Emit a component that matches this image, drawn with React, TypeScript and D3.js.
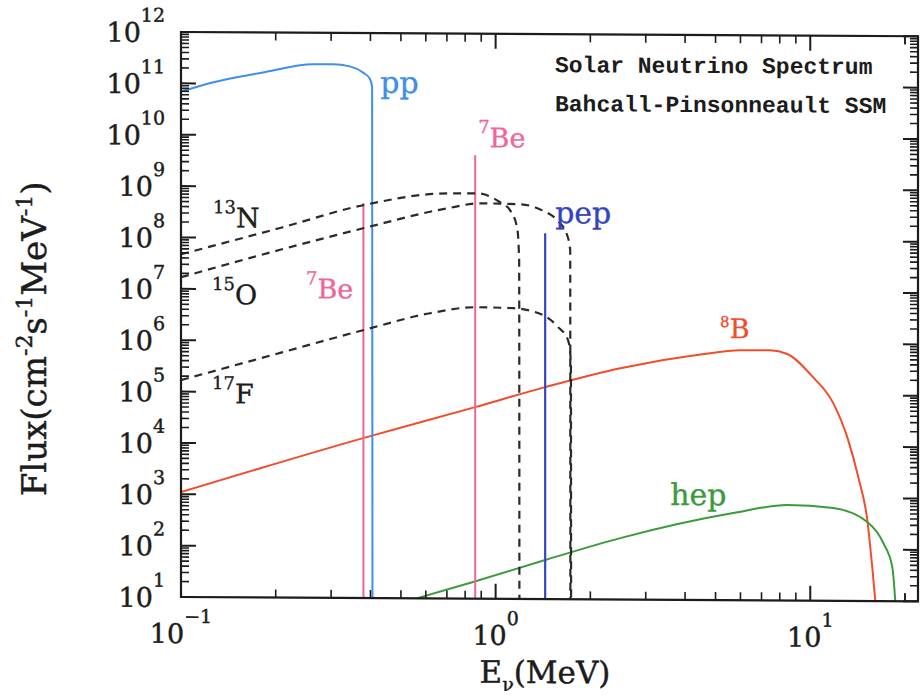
import React from "react";
import * as d3 from "d3";

// ---------- data ----------
const yExponents = [1, 2, 3, 4, 5, 6, 7, 8, 9, 10, 11, 12];
const xExponents = [-1, 0, 1];
const minorMultipliers = [2, 3, 4, 5, 6, 7, 8, 9];

const ppE = [0.1, 0.126, 0.182, 0.263, 0.304, 0.344, 0.379, 0.398, 0.405, 0.406];
const ppF = [6.9e10, 1.05e11, 1.66e11, 2.43e11, 2.44e11, 2.24e11, 1.7e11, 1.3e11, 9e10, 10];

const n13E = [0.1, 0.2065, 0.379, 0.701, 0.873, 1.033, 1.112, 1.171, 1.188, 1.19];
const n13F = [4.7e7, 1.57e8, 4.45e8, 7.74e8, 7.8e8, 5.27e8, 3.68e8, 1.65e8, 3.9e7, 10];

const o15E = [0.1, 0.2065, 0.379, 0.701, 0.893, 1.196, 1.406, 1.569, 1.688, 1.726, 1.728];
const o15F = [1.68e7, 5.9e7, 1.58e8, 3.95e8, 4.99e8, 4.84e8, 3.7e8, 2.38e8, 1.22e8, 6.2e7, 10];

const f17E = [0.1, 0.2065, 0.379, 0.619, 0.861, 1.137, 1.416, 1.58, 1.7, 1.735, 1.737];
const f17F = [1.67e5, 5.8e5, 1.64e6, 3.57e6, 4.73e6, 4.57e6, 3.37e6, 1.98e6, 1.1e6, 4e5, 10];

const b8E = [0.1, 0.379, 0.861, 1.437, 2.49, 4.47, 5.99, 7.46, 8.45, 10.2, 11.83, 13.2, 14.21, 15.18, 15.74, 16.1];
const b8F = [1.1e3, 1.3e4, 5.37e4, 1.34e5, 3.19e5, 6.0e5, 7.35e5, 7.4e5, 6.3e5, 2.25e5, 7.05e4, 1.35e4, 2.57e3, 377, 45.8, 10];

const hepE = [0.56, 0.848, 1.437, 2.49, 5.69, 8.45, 11.83, 15.18, 17.07, 18.23, 18.63];
const hepF = [10, 21.1, 57.7, 157, 497, 721, 638, 344, 135, 46, 10];

const be7LineE = [0.38, 0.861];
const be7LineF = [4.9e8, 4.3e9];
const pepLineE = [1.437];
const pepLineF = [1.33e8];

// label anchors (energy, flux)
const labelNames = ["pp", "7Be", "7Be", "pep", "13N", "15O", "17F", "8B", "hep"];
const labelE = [0.43, 0.88, 0.2497, 1.546, 0.1264, 0.1255, 0.1255, 5.17, 3.59];
const labelF = [6.9e10, 6.2e9, 6.8e6, 2.1e8, 1.6e8, 5.1e6, 6.0e4, 1.27e6, 702];

const titleLines = ["Solar Neutrino Spectrum", "Bahcall-Pinsonneault SSM"];

// ---------- styles ----------
const C_PP = "#3f8fe8";
const C_BE = "#f0649c";
const C_PEP = "#3444c0";
const C_B8 = "#f24c2c";
const C_HEP = "#3c9a3c";
const C_DASH = "#2a2a2a";
const C_AX = "#1c1c1c";
const SERIF = "'DejaVu Serif', serif";

export default function App() {
  const left = 181, right = 918, top = 32, bottom = 597;
  const x = d3.scaleLog().domain([0.1, 22]).range([left, right]);
  const y = d3.scaleLog().domain([10, 1e12]).range([bottom, top]);

  const line = d3
    .line<[number, number]>()
    .x((d) => x(d[0]))
    .y((d) => y(d[1]))
    .curve(d3.curveMonotoneX);
  const pts = (E: number[], F: number[]) => E.map((e, i) => [e, F[i]] as [number, number]);

  const skewT = 0.0058;
  const skewDeg = (Math.atan(skewT) * 180) / Math.PI;

  const yMinor: number[] = [];
  yExponents.slice(0, -1).forEach((p) => minorMultipliers.forEach((m) => yMinor.push(m * Math.pow(10, p))));
  const xMinor: number[] = [];
  xExponents.forEach((p) => minorMultipliers.forEach((m) => {
    const v = m * Math.pow(10, p);
    if (v <= 22) xMinor.push(v);
  }));
  const xMinorAll = [...xMinor, 20];

  const MAJ = 15, MIN = 8;
  const thick = { stroke: C_AX, strokeWidth: 0.45 };

  const label = (i: number) => {
    const name = labelNames[i];
    const lx = x(labelE[i]);
    const ly = y(labelF[i]);
    const m = name.match(/^(\d+)(.*)$/);
    const colorMap: Record<string, string> = {
      pp: C_PP, "7Be": C_BE, pep: C_PEP, "13N": C_AX, "15O": C_AX, "17F": C_AX, "8B": C_B8, hep: C_HEP,
    };
    const col = colorMap[name];
    if (m) {
      const small = name === "8B";
      return (
        <text key={i} x={lx} y={ly} fill={col} stroke={col} strokeWidth={0.35} fontFamily={SERIF} fontSize={27}>
          <tspan fontSize={small ? 15 : 18} dy={small ? -11 : -14}>{m[1]}</tspan>
          <tspan fontSize={27} dy={small ? 11 : 14}>{m[2]}</tspan>
        </text>
      );
    }
    return (
      <text key={i} x={lx} y={ly} fill={col} stroke={col} strokeWidth={0.35} fontFamily={SERIF} fontSize={30}>
        {name}
      </text>
    );
  };

  return (
    <svg
      width={920}
      height={696}
      style={{ position: "absolute", left: 0, top: 0, background: "#fff" }}
    >
      <rect x={0} y={0} width={920} height={696} fill="#fff" />
      <defs>
        <clipPath id="plot">
          <rect x={left} y={top} width={right - left} height={bottom - top} />
        </clipPath>
      </defs>
      <g transform={`translate(0, ${-left * skewT}) skewY(${skewDeg})`}>
        {/* curves */}
        <g clipPath="url(#plot)" fill="none">
          <path d={line(pts(b8E, b8F)) || ""} stroke={C_B8} strokeWidth={2} />
          <path d={line(pts(hepE, hepF)) || ""} stroke={C_HEP} strokeWidth={2} />
          {be7LineE.map((e, i) => (
            <line key={"be" + i} x1={x(e)} x2={x(e)} y1={y(be7LineF[i])} y2={bottom} stroke={C_BE} strokeWidth={2} />
          ))}
          {pepLineE.map((e, i) => (
            <line key={"pep" + i} x1={x(e)} x2={x(e)} y1={y(pepLineF[i])} y2={bottom} stroke={C_PEP} strokeWidth={2.2} />
          ))}
          <path d={line(pts(ppE, ppF)) || ""} stroke={C_PP} strokeWidth={2} />
          <path d={line(pts(n13E, n13F)) || ""} stroke={C_DASH} strokeWidth={2.2} strokeDasharray="8,6" />
          <path d={line(pts(o15E, o15F)) || ""} stroke={C_DASH} strokeWidth={2.2} strokeDasharray="8,6" />
          <path d={line(pts(f17E, f17F)) || ""} stroke={C_DASH} strokeWidth={2.2} strokeDasharray="8,6" />
        </g>

        {/* frame */}
        <rect x={left} y={top} width={right - left} height={bottom - top} fill="none" stroke={C_AX} strokeWidth={2.2} />

        {/* y ticks */}
        {yExponents.map((p) => {
          const yy = y(Math.pow(10, p));
          return (
            <g key={"ym" + p} stroke={C_AX} strokeWidth={2}>
              <line x1={left} x2={left + MAJ} y1={yy} y2={yy} />
              <line x1={right} x2={right - MAJ} y1={yy} y2={yy} />
            </g>
          );
        })}
        {yMinor.map((v, i) => {
          const yy = y(v);
          return (
            <g key={"yn" + i} stroke={C_AX} strokeWidth={1.6}>
              <line x1={left} x2={left + MIN} y1={yy} y2={yy} />
              <line x1={right} x2={right - MIN} y1={yy} y2={yy} />
            </g>
          );
        })}
        {/* x ticks */}
        {xExponents.map((p) => {
          const xx = x(Math.pow(10, p));
          return (
            <g key={"xm" + p} stroke={C_AX} strokeWidth={2}>
              <line x1={xx} x2={xx} y1={bottom} y2={bottom - MAJ} />
              <line x1={xx} x2={xx} y1={top} y2={top + MAJ} />
            </g>
          );
        })}
        {xMinorAll.map((v, i) => {
          const xx = x(v);
          return (
            <g key={"xn" + i} stroke={C_AX} strokeWidth={1.6}>
              <line x1={xx} x2={xx} y1={bottom} y2={bottom - MIN} />
              <line x1={xx} x2={xx} y1={top} y2={top + MIN} />
            </g>
          );
        })}

        {/* y tick labels */}
        {yExponents.map((p) => (
          <text key={"yl" + p} x={165} y={y(Math.pow(10, p)) + 10} textAnchor="end" fontFamily={SERIF} fontSize={27} fill={C_AX} {...thick}>
            10<tspan fontSize={19} dy={-20}>{p}</tspan>
          </text>
        ))}
        {/* x tick labels */}
        {xExponents.map((p) => (
          <text key={"xl" + p} x={x(Math.pow(10, p))} y={bottom + 46} textAnchor="middle" fontFamily={SERIF} fontSize={27} fill={C_AX} {...thick}>
            10<tspan fontSize={19} dy={-20}>{p < 0 ? "\u2212" + Math.abs(p) : String(p)}</tspan>
          </text>
        ))}

        {/* axis titles */}
        <text x={545} y={681} textAnchor="middle" fontFamily={SERIF} fontSize={31} fill={C_AX} {...thick}>
          E<tspan fontSize={19} dy={8}>ν</tspan>
          <tspan dy={-8}>(MeV)</tspan>
        </text>
        <text transform="translate(46, 497) rotate(-90)" textAnchor="start" fontFamily={SERIF} fontSize={34} fill={C_AX} {...thick}>
          Flux(cm<tspan fontSize={22} dy={-14}>-2</tspan>
          <tspan dy={14}>s</tspan>
          <tspan fontSize={22} dy={-14}>-1</tspan>
          <tspan dy={14}>MeV</tspan>
          <tspan fontSize={22} dy={-14}>-1</tspan>
          <tspan dy={14}>)</tspan>
        </text>

        {/* title */}
        {titleLines.map((t, i) => (
          <text key={"t" + i} x={555} y={70 + i * 39} fontFamily="'Liberation Mono', monospace" fontWeight="bold" fontSize={23} fill={C_AX}>
            {t}
          </text>
        ))}

        {/* series labels */}
        {labelNames.map((_, i) => label(i))}
      </g>
    </svg>
  );
}
